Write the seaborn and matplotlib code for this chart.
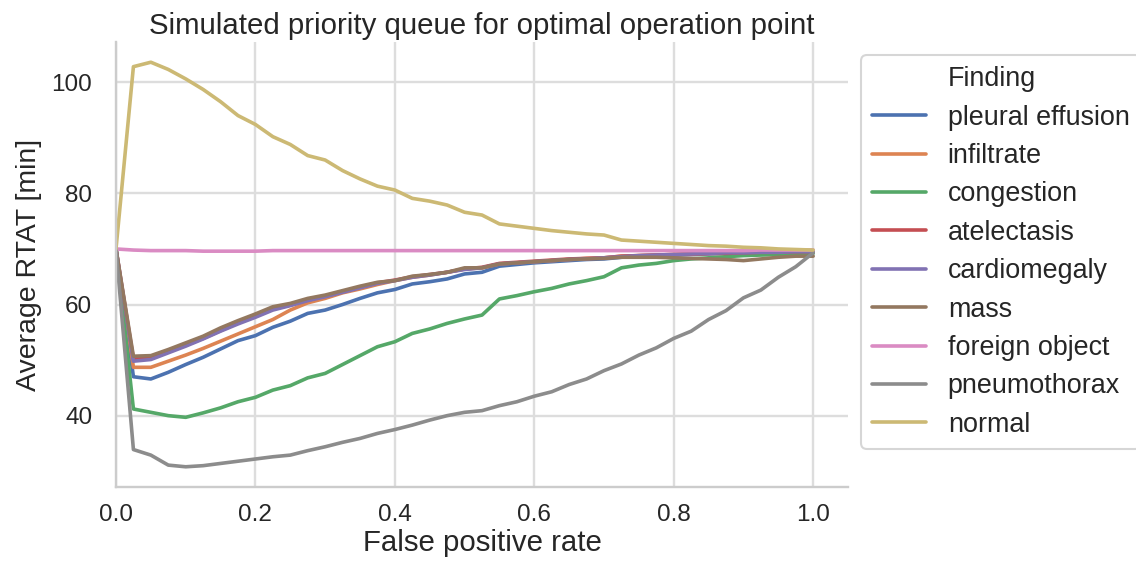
import matplotlib
matplotlib.use("Agg")
import matplotlib.pyplot as plt
from matplotlib.lines import Line2D
import seaborn as sns
import pandas as pd

fpr = [0.0, 0.025, 0.05, 0.075, 0.1, 0.125, 0.15, 0.175, 0.2, 0.225,
       0.25, 0.275, 0.3, 0.325, 0.35, 0.375, 0.4, 0.425, 0.45, 0.475,
       0.5, 0.525, 0.55, 0.575, 0.6, 0.625, 0.65, 0.675, 0.7, 0.725,
       0.75, 0.775, 0.8, 0.825, 0.85, 0.875, 0.9, 0.925, 0.95, 0.975, 1.0]

findings = ["pleural effusion", "infiltrate", "congestion", "atelectasis",
            "cardiomegaly", "mass", "foreign object", "pneumothorax", "normal"]

pleural_effusion = [70.0, 47.0, 46.6, 47.8, 49.2, 50.5, 52.0, 53.5, 54.4, 55.9,
                    57.0, 58.4, 59.0, 60.0, 61.1, 62.1, 62.7, 63.7, 64.1, 64.6,
                    65.5, 65.8, 66.9, 67.2, 67.5, 67.7, 67.9, 68.1, 68.2, 68.5,
                    68.7, 68.8, 68.9, 69.0, 69.1, 69.2, 69.3, 69.3, 69.4, 69.4, 69.5]
infiltrate = [70.0, 48.7, 48.7, 49.8, 50.9, 52.1, 53.4, 54.7, 56.0, 57.3,
              59.0, 60.3, 61.1, 62.1, 62.8, 63.6, 64.3, 64.9, 65.3, 65.8,
              66.4, 66.6, 67.3, 67.5, 67.7, 67.9, 68.1, 68.3, 68.4, 68.7,
              68.8, 68.9, 69.0, 69.1, 69.2, 69.3, 69.3, 69.4, 69.4, 69.5, 69.5]
congestion = [70.0, 41.2, 40.6, 40.0, 39.7, 40.5, 41.4, 42.5, 43.3, 44.6,
              45.4, 46.8, 47.6, 49.2, 50.8, 52.4, 53.3, 54.8, 55.6, 56.6,
              57.4, 58.1, 61.0, 61.6, 62.3, 62.9, 63.7, 64.3, 65.0, 66.6,
              67.1, 67.4, 67.9, 68.2, 68.4, 68.6, 68.8, 68.9, 69.0, 69.1, 69.2]
atelectasis = [70.0, 50.2, 50.3, 51.5, 52.7, 53.9, 55.3, 56.7, 57.9, 59.2,
               59.9, 60.8, 61.5, 62.3, 63.1, 63.9, 64.4, 65.0, 65.4, 65.8,
               66.4, 66.7, 67.4, 67.6, 67.8, 68.0, 68.2, 68.3, 68.4, 68.7,
               68.8, 68.9, 69.0, 69.1, 69.2, 69.2, 69.3, 69.4, 69.4, 69.5, 69.5]
cardiomegaly = [70.0, 49.8, 50.1, 51.3, 52.5, 53.8, 55.2, 56.5, 57.7, 59.0,
                59.8, 60.7, 61.4, 62.2, 63.0, 63.8, 64.3, 64.9, 65.3, 65.8,
                66.3, 66.6, 67.3, 67.5, 67.7, 67.9, 68.1, 68.2, 68.4, 68.6,
                68.8, 68.9, 69.0, 69.1, 69.2, 69.3, 69.3, 69.4, 69.4, 69.5, 69.5]
mass = [70.0, 50.7, 50.8, 51.9, 53.1, 54.3, 55.8, 57.1, 58.3, 59.6,
        60.2, 61.1, 61.7, 62.5, 63.3, 64.0, 64.3, 65.1, 65.4, 65.8,
        66.6, 66.6, 67.3, 67.5, 67.7, 67.9, 68.1, 68.2, 68.3, 68.5,
        68.5, 68.5, 68.4, 68.3, 68.2, 68.1, 67.9, 68.2, 68.5, 68.7, 68.7]
foreign_object = [70.0, 69.8, 69.7, 69.7, 69.7, 69.6, 69.6, 69.6, 69.6, 69.7,
                  69.7, 69.7, 69.7, 69.7, 69.7, 69.7, 69.7, 69.7, 69.7, 69.7,
                  69.7, 69.7, 69.7, 69.7, 69.7, 69.7, 69.7, 69.7, 69.7, 69.7,
                  69.7, 69.7, 69.7, 69.7, 69.7, 69.7, 69.7, 69.8, 69.8, 69.8, 69.8]
pneumothorax = [70.0, 33.9, 32.9, 31.1, 30.8, 31.0, 31.4, 31.8, 32.2, 32.6,
                32.9, 33.7, 34.4, 35.2, 35.9, 36.8, 37.5, 38.3, 39.2, 40.0,
                40.6, 40.9, 41.8, 42.5, 43.5, 44.3, 45.6, 46.6, 48.1, 49.3,
                50.9, 52.2, 53.9, 55.2, 57.3, 58.9, 61.2, 62.6, 64.9, 66.8, 69.3]
normal = [70.0, 102.8, 103.6, 102.3, 100.6, 98.7, 96.5, 94.0, 92.4, 90.2,
          88.8, 86.8, 86.0, 84.1, 82.6, 81.3, 80.6, 79.1, 78.6, 77.9,
          76.6, 76.1, 74.5, 74.1, 73.7, 73.3, 73.0, 72.7, 72.5, 71.6,
          71.4, 71.2, 71.0, 70.8, 70.6, 70.5, 70.3, 70.2, 70.0, 69.9, 69.8]

series = [pleural_effusion, infiltrate, congestion, atelectasis, cardiomegaly,
          mass, foreign_object, pneumothorax, normal]

rows = []
for name, vals in zip(findings, series):
    for x, y in zip(fpr, vals):
        rows.append({"False positive rate": x, "Average RTAT [min]": y, "Finding": name})
df = pd.DataFrame(rows)

sns.set_theme(context="talk", style="whitegrid")
plt.rcParams["font.family"] = ["Liberation Sans", "DejaVu Sans"]

fig = plt.figure(figsize=(11.36, 5.69), dpi=100)
ax = fig.add_axes([0.1021, 0.1441, 0.6444, 0.7821])

sns.lineplot(data=df, x="False positive rate", y="Average RTAT [min]",
             hue="Finding", hue_order=findings, palette="deep",
             linewidth=2.6, ax=ax)

sns.despine(ax=ax)
for s in ["left", "bottom"]:
    ax.spines[s].set_color("#cccccc")
    ax.spines[s].set_linewidth(1.7)
ax.grid(True, color="#dddddd", linewidth=1.7)

ax.set_xlim(0, 1.05)
ax.set_xticks([0.0, 0.2, 0.4, 0.6, 0.8, 1.0])
ax.set_yticks([40, 60, 80, 100])
ax.tick_params(labelsize=17.5, colors="#262626")
ax.tick_params(axis="y", pad=8)
ax.set_xlabel("False positive rate", fontsize=21.2, labelpad=2)
ax.set_ylabel("Average RTAT [min]", fontsize=20.5, labelpad=7)
ax.set_title("Simulated priority queue for optimal operation point", fontsize=21.2, pad=6)

handles, labels = ax.get_legend_handles_labels()
blank = Line2D([], [], linestyle="none")
ax.legend(handles=[blank] + handles, labels=["Finding"] + labels,
          loc="upper left", bbox_to_anchor=(1.0, 1.0), fontsize=19.4,
          labelspacing=0.46, frameon=True)

fig.savefig("out.png", dpi=100)
